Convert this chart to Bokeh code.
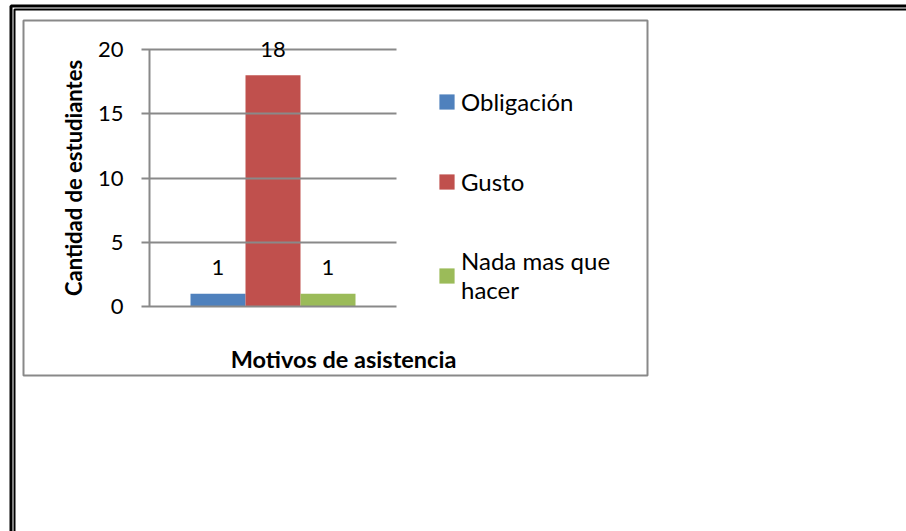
from bokeh.plotting import figure
from bokeh.models import (ColumnDataSource, Range1d, FixedTicker, LabelSet, LinearAxis,
                          Label, Legend, LegendItem, BoxAnnotation)
from bokeh.core.properties import value
from bokeh.embed import file_html
from bokeh.resources import INLINE

# ---- data ----
series = ["Obligación", "Gusto", "Nada mas que hacer"]
legend_labels = ["Obligación", "Gusto", "Nada mas que\nhacer"]
counts = [1, 18, 1]
colors = ["#4F81BD", "#C0504D", "#9BBB59"]
y_ticks = [0, 5, 10, 15, 20]
y_title = "Cantidad de estudiantes"
x_title = "Motivos de asistencia"

FONT = "Lato"
GRAY = "#898989"
W, H = 906, 531

source = ColumnDataSource(dict(x=list(range(len(series))), series=series, counts=counts,
                               colors=colors, text=[str(c) for c in counts]))

# ranges chosen so that the plot area sits inside the chart box like the original
px_per_cat = 55.0
x0_px = 217.5
x_start = -x0_px / px_per_cat
x_end = x_start + W / px_per_cat
px_per_unit = 257.0 / 20
y0_px_from_bottom = H - 306
y_start = -y0_px_from_bottom / px_per_unit
y_end = y_start + H / px_per_unit

p = figure(width=W, height=H, x_range=Range1d(x_start, x_end), y_range=Range1d(y_start, y_end),
           x_axis_type=None, y_axis_type=None,
           output_backend="svg", toolbar_location=None,
           min_border_left=0, min_border_right=0, min_border_top=0, min_border_bottom=0)
p.background_fill_color = "white"
p.border_fill_color = "white"
p.outline_line_color = None
p.grid.visible = False

r = p.vbar(x="x", top="counts", width=1.0, fill_color="colors", line_color=None, source=source)

yax = LinearAxis(fixed_location=(149 - x0_px) / px_per_cat, bounds=(y_ticks[0], y_ticks[-1]))
yax.ticker = FixedTicker(ticks=y_ticks)
yax.axis_label = y_title
yax.axis_label_text_font = FONT
yax.axis_label_text_font_size = "22px"
yax.axis_label_text_font_style = "bold"
yax.axis_label_text_color = "black"
yax.axis_label_standoff = 8
yax.major_label_text_font = FONT
yax.major_label_text_font_size = "22px"
yax.major_label_text_color = "black"
yax.major_label_standoff = 18
yax.major_tick_out = 8
yax.major_tick_in = 247
yax.major_tick_line_color = GRAY
yax.major_tick_line_width = 2
yax.minor_tick_line_color = None
yax.axis_line_color = GRAY
yax.axis_line_width = 2
p.add_layout(yax, "left")

labels = LabelSet(x="x", y="counts", text="text", source=source, y_offset=26,
                  text_align="center", text_baseline="middle",
                  text_font=value(FONT), text_font_size=value("22px"), text_color="black")
p.add_layout(labels)

xt = Label(x=343, y=H - 358, x_units="screen", y_units="screen", text=x_title,
           text_font=FONT, text_font_size="23.5px", text_font_style="bold",
           text_align="center", text_baseline="middle", text_color="black")
p.add_layout(xt)

items = [LegendItem(label=value(legend_labels[i]), renderers=[r], index=i) for i in range(len(series))]
legend = Legend(items=items, location=(437, H - 304), orientation="vertical",
                glyph_width=19, glyph_height=19, label_height=30, label_standoff=5,
                spacing=50, padding=0, margin=0, border_line_color=None,
                background_fill_alpha=0, label_text_font=FONT, label_text_font_size="24px",
                label_text_line_height=1.25, label_text_color="black")
p.add_layout(legend)

# chart box and page double border
def frame_box(l, t, r_, b, color, lw):
    return BoxAnnotation(left=l, right=r_, top=t, bottom=b,
                         left_units="canvas", right_units="canvas",
                         top_units="canvas", bottom_units="canvas",
                         fill_color=None, fill_alpha=0, line_color=color, line_alpha=1.0,
                         line_width=lw)

for b in (frame_box(23, 20, 647, 375, GRAY, 2),
          frame_box(10.5, 5.5, 3000, 3000, "black", 3),
          frame_box(14, 9, 3000, 3000, "black", 2)):
    p.add_layout(b)

open("out.html", "w").write(file_html(p, INLINE))
